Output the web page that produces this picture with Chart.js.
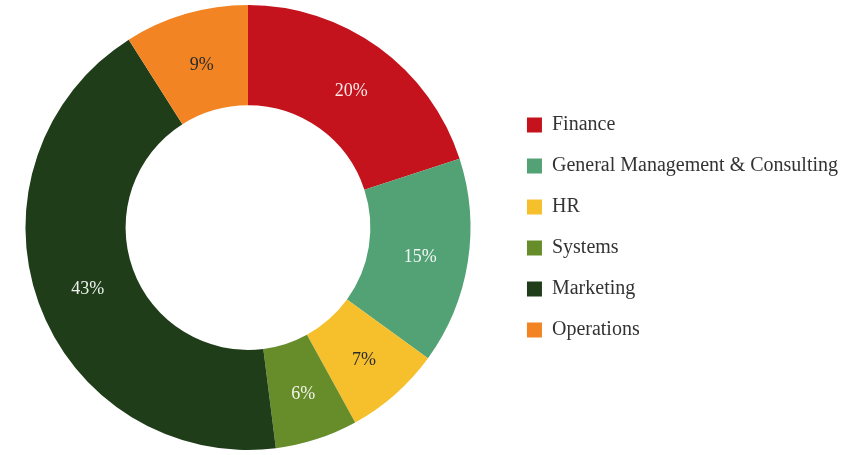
<!DOCTYPE html>
<html>
<head>
<meta charset="utf-8">
<script src="https://cdn.jsdelivr.net/npm/chart.js@4.4.1/dist/chart.umd.min.js"></script>
<style>
  html, body { margin: 0; padding: 0; background: #fff; overflow: hidden; }
  #wrap { width: 871px; height: 455px; margin-left: -10px; }
</style>
</head>
<body>
<div id="wrap"><canvas id="chart-dept"></canvas></div>
<script>
// Departments (doughnut chart)
const departments = ["Finance", "General Management & Consulting", "HR", "Systems", "Marketing", "Operations"];
const shares = [20, 15, 7, 6, 43, 9];
const sliceColors = ["#c4131c", "#52a276", "#f6bf2c", "#678c2a", "#1f3d19", "#f28424"];
const labelColors = ["#fbe9e9", "#f2f8f4", "#2b2b2b", "#f2f5ea", "#eef2ed", "#2b2b2b"];

// writes the % in the middle of every slice
const sliceLabels = {
  id: "sliceLabels",
  afterDatasetsDraw(chart) {
    const ctx = chart.ctx;
    const meta = chart.getDatasetMeta(0);
    ctx.save();
    ctx.font = "18px 'Liberation Serif', serif";
    ctx.textAlign = "center";
    ctx.textBaseline = "middle";
    meta.data.forEach((arc, i) => {
      const pos = arc.tooltipPosition();
      ctx.fillStyle = labelColors[i];
      ctx.fillText(shares[i] + "%", pos.x + 2, pos.y + 3);
    });
    ctx.restore();
  }
};

const ctx = document.getElementById("chart-dept").getContext("2d");
new Chart(ctx, {
  type: "doughnut",
  data: {
    labels: departments,
    datasets: [{
      data: shares,
      backgroundColor: sliceColors,
      borderWidth: 0
    }]
  },
  options: {
    responsive: true,
    maintainAspectRatio: false,
    animation: false,
    cutout: "55%",
    layout: { padding: { top: 5, bottom: 5, left: 0, right: 13 } },
    plugins: {
      tooltip: { enabled: false },
      legend: {
        position: "right",
        labels: {
          boxWidth: 15,
          boxHeight: 15,
          padding: 21,
          color: "#333",
          font: { family: "'Liberation Serif', serif", size: 20 }
        }
      }
    }
  },
  plugins: [sliceLabels]
});
</script>
</body>
</html>
